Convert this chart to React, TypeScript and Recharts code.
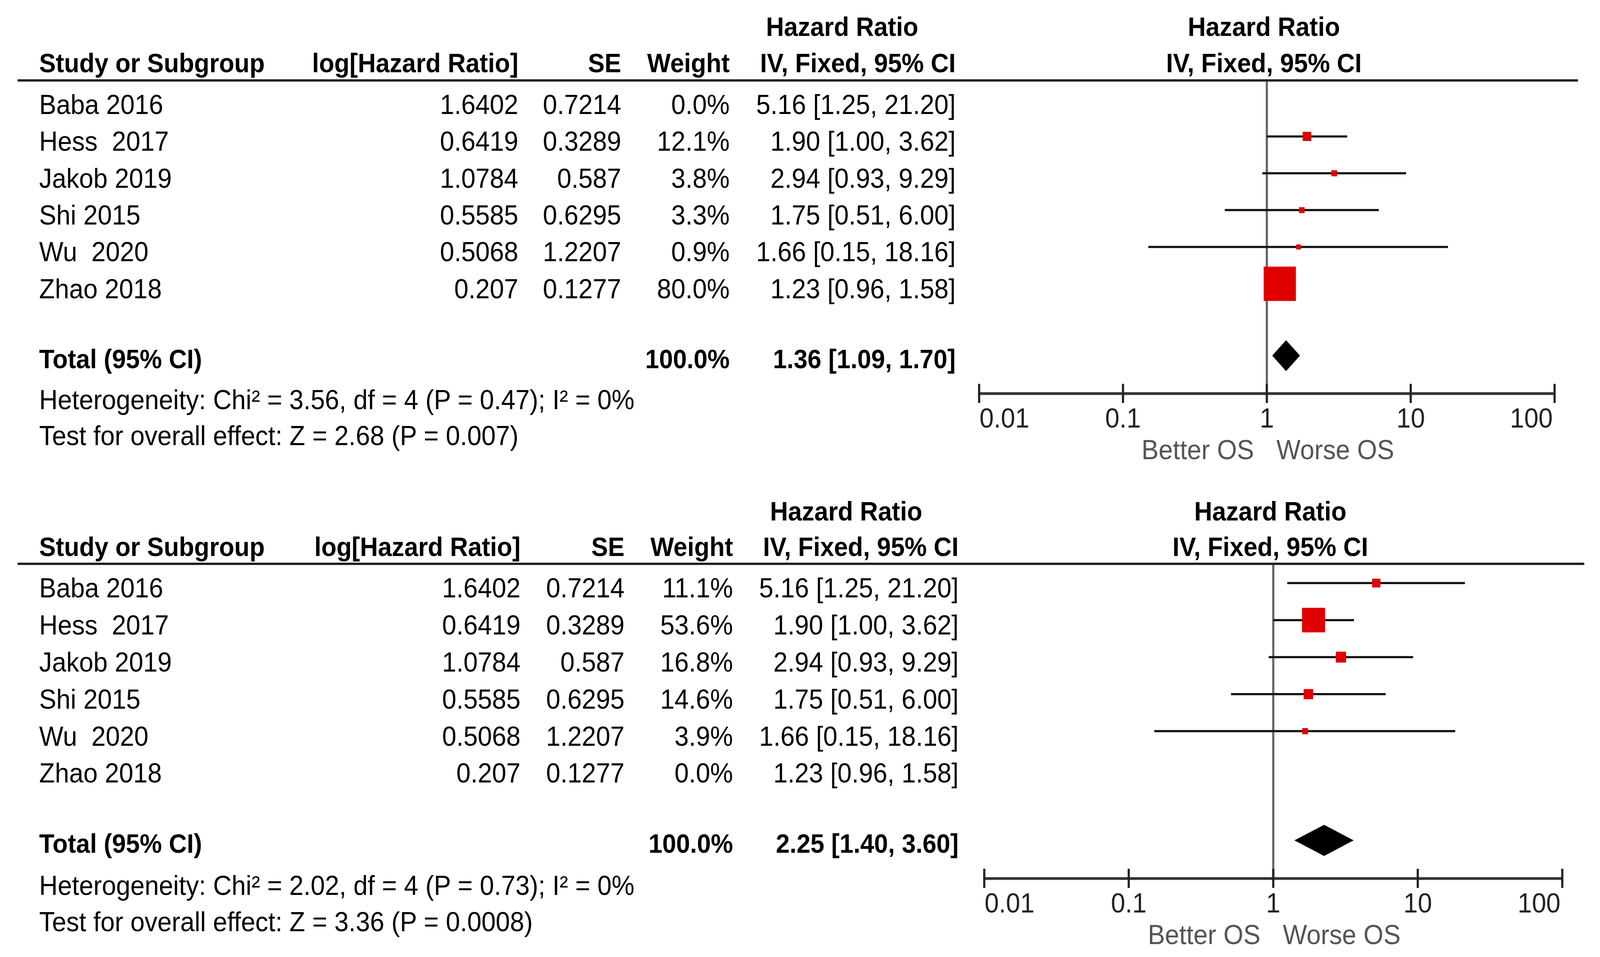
import React from 'react';
import { ComposedChart, XAxis, YAxis, Scatter, ErrorBar, Area, ReferenceLine } from 'recharts';

// ---------- data ----------
const STUDIES = ['Baba 2016', 'Hess  2017', 'Jakob 2019', 'Shi 2015', 'Wu  2020', 'Zhao 2018'];
const LOG_HR = [1.6402, 0.6419, 1.0784, 0.5585, 0.5068, 0.207];
const SE = [0.7214, 0.3289, 0.587, 0.6295, 1.2207, 0.1277];
const HR = [5.16, 1.9, 2.94, 1.75, 1.66, 1.23];
const CI_LOW = [1.25, 1.0, 0.93, 0.51, 0.15, 0.96];
const CI_HIGH = [21.2, 3.62, 9.29, 6.0, 18.16, 1.58];
const WEIGHT_A = [0.0, 12.1, 3.8, 3.3, 0.9, 80.0];
const WEIGHT_B = [11.1, 53.6, 16.8, 14.6, 3.9, 0.0];
const TOTAL_A = { hr: 1.36, lo: 1.09, hi: 1.7, weight: 100.0 };
const TOTAL_B = { hr: 2.25, lo: 1.4, hi: 3.6, weight: 100.0 };
const HET_A = 'Heterogeneity: Chi\u00b2 = 3.56, df = 4 (P = 0.47); I\u00b2 = 0%';
const TEST_A = 'Test for overall effect: Z = 2.68 (P = 0.007)';
const HET_B = 'Heterogeneity: Chi\u00b2 = 2.02, df = 4 (P = 0.73); I\u00b2 = 0%';
const TEST_B = 'Test for overall effect: Z = 3.36 (P = 0.0008)';
const X_TICKS = [0.01, 0.1, 1, 10, 100];
const X_TICK_LABELS = ['0.01', '0.1', '1', '10', '100'];
const COL_HEADERS = ['Study or Subgroup', 'log[Hazard Ratio]', 'SE', 'Weight', 'IV, Fixed, 95% CI'];
const GROUP_HEADER = 'Hazard Ratio';
const TOTAL_LABEL = 'Total (95% CI)';
const SIDE_LEFT = 'Better OS';
const SIDE_RIGHT = 'Worse OS';

// ---------- layout ----------
const W = 4368;
const H = 2451;
const FONT = '"Liberation Sans", Arial, sans-serif';
const FS = 70;
const FS_BOLD = 68;
const TOTAL_ROW = 6.95;
const Y_DOMAIN = [-0.52, 7.98];
const DIAMOND_H = 0.42;
const YAXIS_W = 10;

const LAYOUT_A = {
  top: 0, height: 1240, plotTop: 206, plotBottom: 1008, plotLeft: 2673, plotRight: 4244,
  lineLeft: 48, lineRight: 4308, colStudy: 107, colLog: 1415, colSe: 1696, colW: 1992, colCi: 2609,
  hrHeadX: 2299, headY1: 92, headY2: 185, hetY: 1048, testY: 1140,
};
const LAYOUT_B = {
  top: 1240, height: 1211, plotTop: 1444, plotBottom: 2250, plotLeft: 2687, plotRight: 4265,
  lineLeft: 48, lineRight: 4325, colStudy: 107, colLog: 1421, colSe: 1705, colW: 2001, colCi: 2617,
  hrHeadX: 2310, headY1: 1333, headY2: 1424, hetY: 2292, testY: 2385,
};

const fmtW = (w: number) => w.toFixed(1) + '%';
const fmtCI = (h: number, l: number, u: number) => `${h.toFixed(2)} [${l.toFixed(2)}, ${u.toFixed(2)}]`;

const SquareShape = (props: any) => {
  const { cx, cy, payload } = props;
  if (cx == null || cy == null) return null;
  const s = 12 + 0.95 * payload.w;
  return <rect x={cx - s / 2} y={cy - s / 2} width={s} height={s} fill="#e00000" />;
};

function makeRowTick(weights: number[], total: any, L: any) {
  return (props: any) => {
    const { y, payload } = props;
    const v = payload.value;
    const common = { fontFamily: FONT, fontSize: FS, fill: '#000', style: { whiteSpace: 'pre' as const } };
    if (Math.abs(v - TOTAL_ROW) < 1e-6) {
      const by = y + 32;
      return (
        <g>
          <text {...common} fontSize={FS_BOLD} x={L.colStudy} y={by} fontWeight="bold">{TOTAL_LABEL}</text>
          <text {...common} fontSize={FS_BOLD} x={L.colW} y={by} textAnchor="end" fontWeight="bold">{fmtW(total.weight)}</text>
          <text {...common} fontSize={FS_BOLD} x={L.colCi} y={by} textAnchor="end" fontWeight="bold">{fmtCI(total.hr, total.lo, total.hi)}</text>
        </g>
      );
    }
    const i = Math.round(v);
    const by = y + 37;
    return (
      <g>
        <text {...common} x={L.colStudy} y={by}>{STUDIES[i]}</text>
        <text {...common} x={L.colLog} y={by} textAnchor="end">{String(LOG_HR[i])}</text>
        <text {...common} x={L.colSe} y={by} textAnchor="end">{String(SE[i])}</text>
        <text {...common} x={L.colW} y={by} textAnchor="end">{fmtW(weights[i])}</text>
        <text {...common} x={L.colCi} y={by} textAnchor="end">{fmtCI(HR[i], CI_LOW[i], CI_HIGH[i])}</text>
      </g>
    );
  };
}

const XTick = (props: any) => {
  const { x, y, index } = props;
  const n = X_TICKS.length;
  const anchor = index === 0 ? 'start' : index === n - 1 ? 'end' : 'middle';
  const lx = index === 0 ? x + 1 : index === n - 1 ? x - 5 : x;
  return (
    <g>
      <line x1={x} x2={x} y1={y - 25} y2={y + 24} stroke="#222" strokeWidth={6} />
      <text x={lx} y={y + 87} textAnchor={anchor} fontFamily={FONT} fontSize={FS} fill="#222">
        {X_TICK_LABELS[index]}
      </text>
    </g>
  );
};

function Panel({ weights, total, L }: any) {
  const points = STUDIES.map((s, i) => ({
    x: HR[i], y: i, w: weights[i], err: [HR[i] - CI_LOW[i], CI_HIGH[i] - HR[i]],
  })).filter((p) => p.w > 0);
  const diamond = [
    { x: total.lo, d: [TOTAL_ROW, TOTAL_ROW] },
    { x: total.hr, d: [TOTAL_ROW - DIAMOND_H, TOTAL_ROW + DIAMOND_H] },
    { x: total.hi, d: [TOTAL_ROW, TOTAL_ROW] },
  ];
  const xAxisH = L.height - (L.plotBottom - L.top);
  const RowTick = makeRowTick(weights, total, L);
  return (
    <div style={{ position: 'absolute', left: 0, top: L.top, width: W, height: L.height }}>
      <ComposedChart
        width={W}
        height={L.height}
        margin={{ top: L.plotTop - L.top, left: L.plotLeft - YAXIS_W, right: W - L.plotRight, bottom: 0 }}
      >
        <XAxis
          dataKey="x"
          type="number"
          scale="log"
          domain={[0.01, 100]}
          allowDataOverflow
          ticks={X_TICKS}
          interval={0}
          height={xAxisH}
          tickSize={0}
          tickMargin={0}
          tickLine={false}
          axisLine={{ stroke: '#333', strokeWidth: 7 }}
          tick={<XTick />}
        />
        <YAxis
          dataKey="y"
          type="number"
          reversed
          domain={Y_DOMAIN}
          allowDataOverflow
          ticks={[0, 1, 2, 3, 4, 5, TOTAL_ROW]}
          interval={0}
          width={YAXIS_W}
          axisLine={false}
          tickLine={false}
          tick={RowTick}
        />
        <ReferenceLine x={1} stroke="#666" strokeWidth={6} />
        <Area
          data={diamond}
          dataKey="d"
          type="linear"
          stroke="none"
          fill="#000"
          fillOpacity={1}
          isAnimationActive={false}
          dot={false}
          activeDot={false}
        />
        <Scatter data={points} shape={SquareShape} isAnimationActive={false}>
          <ErrorBar dataKey="err" direction="x" width={0} stroke="#111" strokeWidth={5.5} isAnimationActive={false} />
        </Scatter>
      </ComposedChart>
    </div>
  );
}

function Overlay({ L, het, test }: any) {
  const x1 = (L.plotLeft + L.plotRight) / 2;
  const t = { fontFamily: FONT, fontSize: FS, fill: '#000' };
  const b = { fontFamily: FONT, fontSize: FS_BOLD, fill: '#000', fontWeight: 'bold' as const };
  const sideY = L.plotBottom + 168;
  return (
    <g>
      <text {...b} x={L.hrHeadX} y={L.headY1} textAnchor="middle">{GROUP_HEADER}</text>
      <text {...b} x={x1 - 8} y={L.headY1} textAnchor="middle">{GROUP_HEADER}</text>
      <text {...b} x={L.colStudy} y={L.headY2}>{COL_HEADERS[0]}</text>
      <text {...b} x={L.colLog} y={L.headY2} textAnchor="end">{COL_HEADERS[1]}</text>
      <text {...b} x={L.colSe} y={L.headY2} textAnchor="end">{COL_HEADERS[2]}</text>
      <text {...b} x={L.colW} y={L.headY2} textAnchor="end">{COL_HEADERS[3]}</text>
      <text {...b} x={L.colCi} y={L.headY2} textAnchor="end">{COL_HEADERS[4]}</text>
      <text {...b} x={x1 - 8} y={L.headY2} textAnchor="middle">{COL_HEADERS[4]}</text>
      <line x1={L.lineLeft} x2={L.lineRight} y1={L.plotTop} y2={L.plotTop} stroke="#222" strokeWidth={6} />
      <text {...t} x={L.colStudy} y={L.hetY}>{het}</text>
      <text {...t} x={L.colStudy} y={L.testY}>{test}</text>
      <text {...t} x={x1 - 35} y={sideY} textAnchor="end" fill="#555">{SIDE_LEFT}</text>
      <text {...t} x={x1 + 26} y={sideY} textAnchor="start" fill="#555">{SIDE_RIGHT}</text>
    </g>
  );
}

export default function App() {
  const vw = typeof window !== 'undefined' ? window.innerWidth : W;
  const vh = typeof window !== 'undefined' ? window.innerHeight : H;
  const sx = vw / W;
  const sy = vh / H;
  return (
    <div style={{ position: 'fixed', left: 0, top: 0, width: '100vw', height: '100vh', overflow: 'hidden', background: '#fff' }}>
      <div
        style={{
          position: 'absolute', left: 0, top: 0, width: W, height: H, background: '#fff',
          transform: `scale(${sx}, ${sy})`, transformOrigin: '0 0',
        }}
      >
        <Panel weights={WEIGHT_A} total={TOTAL_A} L={LAYOUT_A} />
        <Panel weights={WEIGHT_B} total={TOTAL_B} L={LAYOUT_B} />
        <svg width={W} height={H} style={{ position: 'absolute', left: 0, top: 0, pointerEvents: 'none' }}>
          <Overlay L={LAYOUT_A} het={HET_A} test={TEST_A} />
          <Overlay L={LAYOUT_B} het={HET_B} test={TEST_B} />
        </svg>
      </div>
    </div>
  );
}
